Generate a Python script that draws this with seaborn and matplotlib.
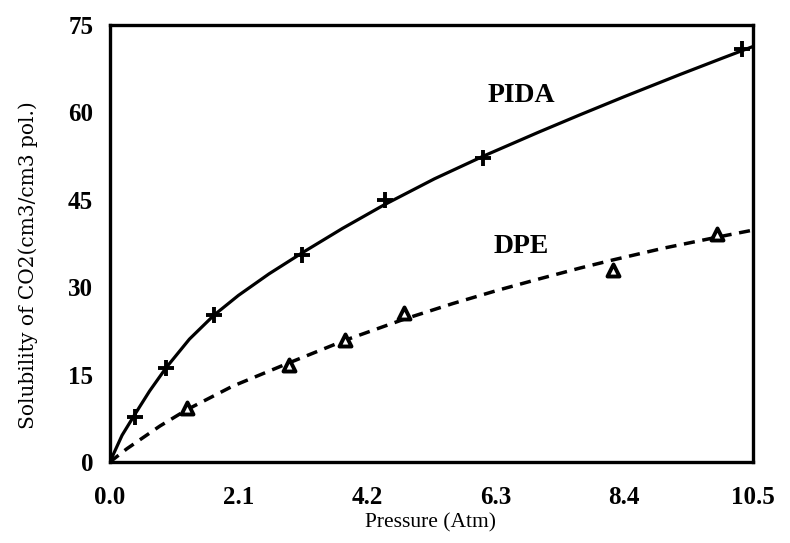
import matplotlib
matplotlib.use("Agg")
import matplotlib.pyplot as plt
import seaborn as sns
import pandas as pd

# Measured points
pida_p = [0.41, 0.92, 1.70, 3.14, 4.49, 6.10, 10.33]
pida_s = [7.7, 16.1, 25.2, 35.5, 44.9, 52.2, 70.8]
dpe_p = [1.26, 2.92, 3.84, 4.80, 8.22, 9.92]
dpe_s = [9.3, 16.6, 20.9, 25.6, 32.9, 39.1]

# Fitted curves
pida_curve_p = [0.0, 0.2, 0.41, 0.65, 0.92, 1.3, 1.70, 2.1, 2.6, 3.14, 3.8, 4.49, 5.3, 6.10, 7.0, 7.68, 8.4, 9.31, 10.0, 10.5]
pida_curve_s = [0.0, 4.6, 8.2, 12.2, 16.2, 21.1, 25.2, 28.6, 32.3, 35.9, 40.1, 44.2, 48.6, 52.5, 56.6, 59.6, 62.7, 66.5, 69.3, 71.3]
dpe_curve_p = [0.0, 0.28, 0.82, 1.26, 2.0, 2.92, 3.84, 4.80, 5.6, 6.34, 7.0, 7.68, 8.22, 9.04, 9.92, 10.5]
dpe_curve_s = [0.0, 2.3, 6.2, 9.0, 13.0, 17.0, 20.9, 24.5, 27.2, 29.5, 31.4, 33.3, 34.7, 36.7, 38.6, 39.8]

xticks = [0.0, 2.1, 4.2, 6.3, 8.4, 10.5]
yticks = [0, 15, 30, 45, 60, 75]

sns.set_theme(style="white")
plt.rcParams['font.family'] = ['Liberation Serif', 'DejaVu Serif']
plt.rcParams['text.color'] = 'black'
plt.rcParams['axes.labelcolor'] = 'black'

fig = plt.figure(figsize=(7.9, 5.43), dpi=100)
ax = fig.add_axes([0.139, 0.149, 0.814, 0.805])

pc = pd.DataFrame({"p": pida_curve_p, "s": pida_curve_s})
dc = pd.DataFrame({"p": dpe_curve_p, "s": dpe_curve_s})
pp = pd.DataFrame({"p": pida_p, "s": pida_s})
dp = pd.DataFrame({"p": dpe_p, "s": dpe_s})

sns.lineplot(data=pc, x="p", y="s", ax=ax, color="black", lw=2.3, sort=False, estimator=None)
sns.lineplot(data=dc, x="p", y="s", ax=ax, color="black", lw=2.5, sort=False, estimator=None,
             dashes=False, linestyle=(0, (3.2, 2.2)))
sns.scatterplot(data=pp, x="p", y="s", ax=ax, marker="+", s=120, color="black", linewidth=2.8, zorder=5)
sns.scatterplot(data=dp, x="p", y="s", ax=ax, marker="^", s=75, facecolor="white", edgecolor="black", linewidth=2.8, zorder=5)

ax.set_xlim(0, 10.5)
ax.set_ylim(0, 75)
ax.set_xticks(xticks)
ax.set_xticklabels([f"{t:.1f}" for t in xticks], fontsize=18, fontweight="bold")
ax.set_yticks(yticks)
ax.set_yticklabels([str(t) for t in yticks], fontsize=18, fontweight="bold")
ax.tick_params(direction="in", length=6, width=2, colors="black")
ax.tick_params(axis="x", pad=17)
ax.tick_params(axis="y", pad=12)
for s in ax.spines.values():
    s.set_linewidth(2.4)
    s.set_color("black")

ax.set_xlabel("Pressure (Atm)", fontsize=15.5)
ax.xaxis.set_label_coords(0.498, -0.118)
ax.set_ylabel("Solubility of CO2(cm3/cm3 pol.)", fontsize=14.5, family=["DejaVu Serif"])
ax.yaxis.set_label_coords(-0.112, 0.45)

ax.text(6.72, 62.9, "PIDA", fontsize=20, fontweight="bold", ha="center", va="center")
ax.text(6.72, 37.0, "DPE", fontsize=20, fontweight="bold", ha="center", va="center")

fig.savefig("out.png", dpi=100)
